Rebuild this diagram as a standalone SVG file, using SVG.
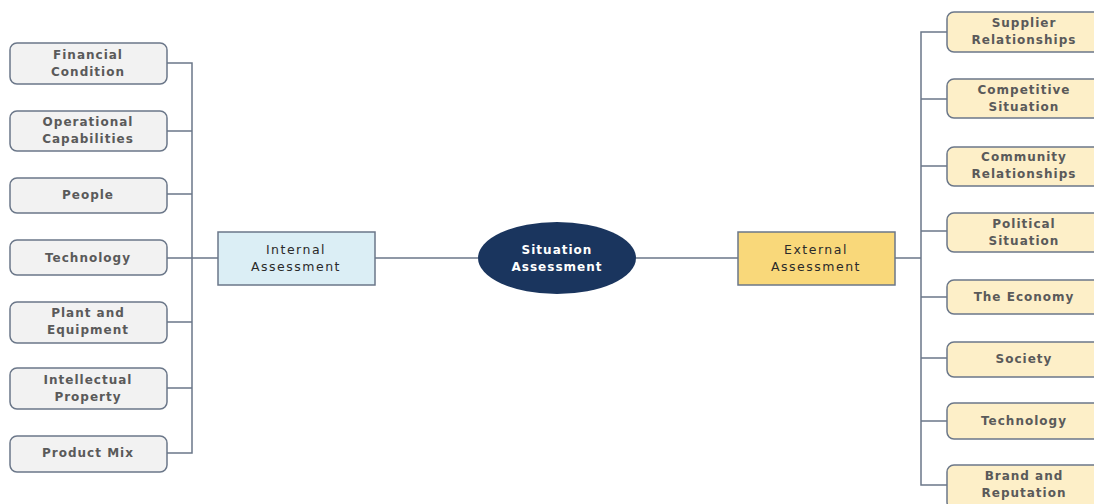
<svg xmlns="http://www.w3.org/2000/svg" width="1094" height="504" viewBox="0 0 1094 504">
<style>
.leaf{fill:#f2f2f2;stroke:#6b7789;stroke-width:1.5}
.ext{fill:#fdefc8;stroke:#6b7789;stroke-width:1.5}
.t{font-family:"DejaVu Sans",Verdana,sans-serif;font-size:12px;font-weight:bold;fill:#5a5a5a;text-anchor:middle;letter-spacing:1px}
.m{font-family:"DejaVu Sans",Verdana,sans-serif;font-size:12.5px;fill:#2a2a2a;text-anchor:middle;letter-spacing:1.5px}
.c{fill:none;stroke:#6b7789;stroke-width:1.5}
</style>
<rect width="1094" height="504" fill="#fff"/>
<g id="connectors">
<path class="c" d="M167 63H192V453H167"/>
<path class="c" d="M167 131H192M167 194H192M167 258H218M167 322H192M167 388H192"/>
<path class="c" d="M375 258H478M636 258H738M895 258H921"/>
<path class="c" d="M947 32H921V485H947"/>
<path class="c" d="M921 99H947M921 166H947M921 231H947M921 297H947M921 358H947M921 421H947"/>
</g>
<g id="situation">
<ellipse cx="557" cy="258" rx="79" ry="36" fill="#1a355e"/>
<text class="t" x="557" y="254" style="fill:#fff">Situation</text>
<text class="t" x="557" y="271" style="fill:#fff">Assessment</text>
</g>
<g id="internal">
<rect x="218" y="232" width="157" height="53" fill="#dbeef5" stroke="#6b7789" stroke-width="1.5"/>
<text class="m" x="296" y="254">Internal</text>
<text class="m" x="296" y="271">Assessment</text>
</g>
<g id="external">
<rect x="738" y="232" width="157" height="53" fill="#f9d87a" stroke="#6b7789" stroke-width="1.5"/>
<text class="m" x="816" y="254">External</text>
<text class="m" x="816" y="271">Assessment</text>
</g>
<g id="financial"><rect class="leaf" x="10" y="43" width="157" height="41" rx="7"/><text class="t" x="88" y="59">Financial</text><text class="t" x="88" y="76">Condition</text></g>
<g id="operational"><rect class="leaf" x="10" y="111" width="157" height="40" rx="7"/><text class="t" x="88" y="126">Operational</text><text class="t" x="88" y="143">Capabilities</text></g>
<g id="people"><rect class="leaf" x="10" y="178" width="157" height="35" rx="7"/><text class="t" x="88" y="199">People</text></g>
<g id="technology-int"><rect class="leaf" x="10" y="240" width="157" height="35" rx="7"/><text class="t" x="88" y="262">Technology</text></g>
<g id="plant"><rect class="leaf" x="10" y="302" width="157" height="41" rx="7"/><text class="t" x="88" y="317">Plant and</text><text class="t" x="88" y="334">Equipment</text></g>
<g id="intellectual"><rect class="leaf" x="10" y="368" width="157" height="41" rx="7"/><text class="t" x="88" y="384">Intellectual</text><text class="t" x="88" y="401">Property</text></g>
<g id="productmix"><rect class="leaf" x="10" y="436" width="157" height="36" rx="7"/><text class="t" x="88" y="457">Product Mix</text></g>
<g id="supplier"><rect class="ext" x="947" y="12" width="154" height="40" rx="7"/><text class="t" x="1024" y="27">Supplier</text><text class="t" x="1024" y="44">Relationships</text></g>
<g id="competitive"><rect class="ext" x="947" y="79" width="154" height="39" rx="7"/><text class="t" x="1024" y="94">Competitive</text><text class="t" x="1024" y="111">Situation</text></g>
<g id="community"><rect class="ext" x="947" y="147" width="154" height="39" rx="7"/><text class="t" x="1024" y="161">Community</text><text class="t" x="1024" y="178">Relationships</text></g>
<g id="political"><rect class="ext" x="947" y="213" width="154" height="39" rx="7"/><text class="t" x="1024" y="228">Political</text><text class="t" x="1024" y="245">Situation</text></g>
<g id="economy"><rect class="ext" x="947" y="280" width="154" height="34" rx="7"/><text class="t" x="1024" y="301">The Economy</text></g>
<g id="society"><rect class="ext" x="947" y="342" width="154" height="35" rx="7"/><text class="t" x="1024" y="363">Society</text></g>
<g id="technology-ext"><rect class="ext" x="947" y="403" width="154" height="36" rx="7"/><text class="t" x="1024" y="425">Technology</text></g>
<g id="brand"><rect class="ext" x="947" y="465" width="154" height="44" rx="7"/><text class="t" x="1024" y="480">Brand and</text><text class="t" x="1024" y="497">Reputation</text></g>
</svg>
